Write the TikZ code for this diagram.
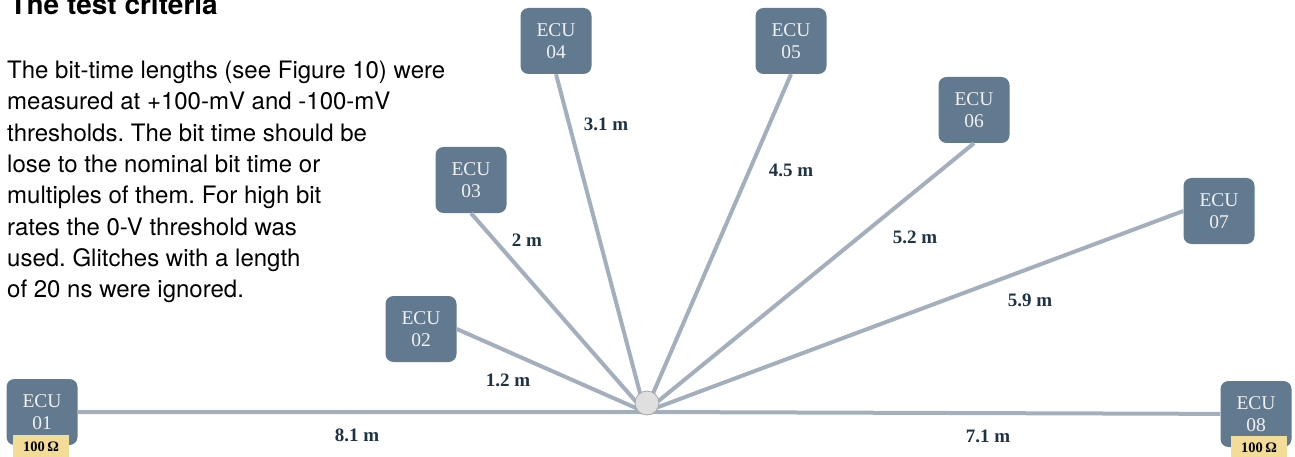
\documentclass[tikz,border=0pt]{standalone}
\usepackage{fontspec}
\setmainfont{Liberation Serif}
\newfontfamily\bodyfont{TeX Gyre Heros}
\definecolor{ecufill}{HTML}{627A8F}
\definecolor{wire}{HTML}{A3AFBC}
\definecolor{lenlabel}{HTML}{1E3346}
\definecolor{termfill}{HTML}{F2DC98}
\frenchspacing

\begin{document}
\begin{tikzpicture}[x=1pt, y=-1pt,
  ecu/.style={fill=ecufill, rounded corners=8pt, minimum width=71pt, minimum height=66pt,
    text=white!94!black, align=center, font=\fontsize{19.5}{22}\selectfont, inner sep=0pt},
  wire/.style={draw=wire, line width=4pt},
  len/.style={text=lenlabel, font=\fontsize{19}{22}\selectfont\bfseries},
  term/.style={fill=termfill, minimum width=56pt, minimum height=24pt, inner sep=0pt,
    text=black, font=\fontsize{14.5}{16}\selectfont\bfseries}]
  \useasboundingbox (0,0) rectangle (1295,457);

  % text block on the left
  \node[anchor=base west, font=\bodyfont\fontsize{28}{32}\selectfont\bfseries] (title) at (6,15) {The test criteria};
  \node[anchor=north west, align=left, inner sep=0pt, font=\bodyfont\fontsize{24}{31.3}\selectfont] (body) at (7,61)
    {The bit-time lengths (see Figure 10) were\\
     measured at +100-mV and -100-mV\\
     thresholds. The bit time should be\\
     lose to the nominal bit time or\\
     multiples of them. For high bit\\
     rates the 0-V threshold was\\
     used. Glitches with a length\\
     of 20 ns were ignored.};

  % ECUs
  \node[ecu] (ecu1) at (42,412) {ECU\\01};
  \node[ecu] (ecu2) at (421,329) {ECU\\02};
  \node[ecu] (ecu3) at (471,180) {ECU\\03};
  \node[ecu] (ecu4) at (556,41) {ECU\\04};
  \node[ecu] (ecu5) at (791,41) {ECU\\05};
  \node[ecu] (ecu6) at (974,110) {ECU\\06};
  \node[ecu] (ecu7) at (1219,211) {ECU\\07};
  \node[ecu] (ecu8) at (1256,414) {ECU\\08};

  \coordinate (bus) at (645,412);

  % wires
  \draw[wire] (ecu1) -- (bus) -- (ecu8);
  \draw[wire] (ecu2.east) -- (bus);
  \foreach \n in {3,...,6}
    \draw[wire] (ecu\n.south) -- (bus);
  \draw[wire] (ecu7.west) -- (bus);

  \node[circle, fill=gray!25, draw=gray!70, line width=0.8pt, minimum size=24pt, inner sep=0pt] (hub) at (647,403) {};

  % terminations
  \node[term] (term1) at (41,447) {100\,Ω};
  \node[term] (term8) at (1259,448) {100\,Ω};

  % lengths
  \node[len] (l1) at (357,435) {8.1 m};
  \node[len] (l2) at (508,380) {1.2 m};
  \node[len] (l3) at (527,240) {2 m};
  \node[len] (l4) at (606,124) {3.1 m};
  \node[len] (l5) at (791,170) {4.5 m};
  \node[len] (l6) at (915,237) {5.2 m};
  \node[len] (l7) at (1030,300) {5.9 m};
  \node[len] (l8) at (988,436) {7.1 m};
\end{tikzpicture}
\end{document}
